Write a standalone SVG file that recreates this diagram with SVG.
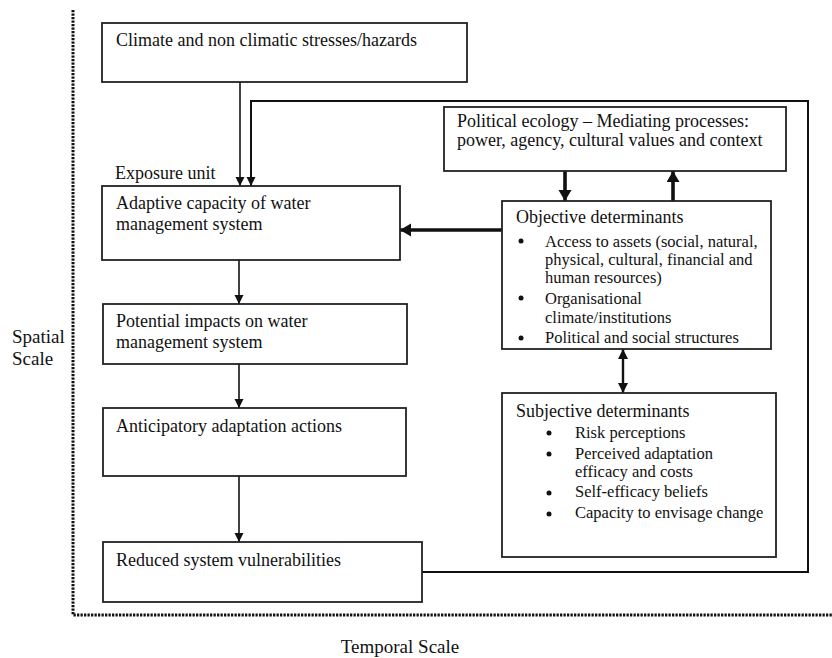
<svg xmlns="http://www.w3.org/2000/svg" width="832" height="658" viewBox="0 0 832 658">
<style>
text{font-family:"Liberation Serif","Times New Roman",serif;fill:#111}
.t{font-size:18px}
.b{font-size:16.5px}
.s{font-size:19px}
.box{fill:#fff;stroke:#222;stroke-width:1.8}
.thin{fill:none;stroke:#111;stroke-width:1.6}
.thick{fill:none;stroke:#111;stroke-width:3.6}
.mid{fill:none;stroke:#111;stroke-width:2.4}
.dot{fill:none;stroke:#111;stroke-width:3;stroke-dasharray:2.3 1.2}
.bul{fill:#111}
</style>
<defs>
<marker id="ah" markerUnits="userSpaceOnUse" markerWidth="10" markerHeight="10" refX="9" refY="4.5" orient="auto">
<path d="M0,0 L9,4.5 L0,9 z" fill="#111"/>
</marker>
<marker id="ahk" markerUnits="userSpaceOnUse" markerWidth="12" markerHeight="14" refX="11" refY="6.5" orient="auto">
<path d="M0,0 L11,6.5 L0,13 z" fill="#111"/>
</marker>
<marker id="ahm" markerUnits="userSpaceOnUse" markerWidth="11" markerHeight="11" refX="10" refY="5" orient="auto-start-reverse">
<path d="M0,0 L10,5 L0,10 z" fill="#111"/>
</marker>
</defs>

<g id="frame">
<path class="dot" d="M73,10 L73,615 L832,615"/>
<text class="s" x="12" y="343">Spatial</text>
<text class="s" x="12" y="365">Scale</text>
<text class="s" x="400" y="653" text-anchor="middle">Temporal Scale</text>
</g>

<g id="connectors">
<line class="thin" x1="240" y1="82" x2="240" y2="186" marker-end="url(#ah)"/>
<polyline class="mid" points="422,572 808,572 808,101 251,101 251,186" style="stroke-width:2" marker-end="url(#ah)"/>
<line class="thin" x1="239" y1="260" x2="239" y2="304" marker-end="url(#ah)"/>
<line class="thin" x1="239" y1="364" x2="239" y2="408" marker-end="url(#ah)"/>
<line class="thin" x1="239" y1="476" x2="239" y2="542" marker-end="url(#ah)"/>
<line class="thick" x1="502" y1="230" x2="400" y2="230" marker-end="url(#ahk)"/>
<line class="thick" x1="565" y1="171" x2="565" y2="201" marker-end="url(#ahk)"/>
<line class="thick" x1="673" y1="201" x2="673" y2="171" marker-end="url(#ahk)"/>
<line class="mid" x1="623" y1="349" x2="623" y2="393" marker-start="url(#ahm)" marker-end="url(#ahm)"/>
</g>

<g id="climate">
<rect class="box" x="102" y="23" width="365" height="59"/>
<text class="t" x="116" y="46">Climate and non climatic stresses/hazards</text>
</g>

<g id="exposure-label">
<text class="t" x="115" y="179">Exposure unit</text>
</g>

<g id="adaptive">
<rect class="box" x="102" y="186" width="298" height="74"/>
<text class="t" x="116" y="209">Adaptive capacity of water</text>
<text class="t" x="116" y="230">management system</text>
</g>

<g id="potential">
<rect class="box" x="103" y="304" width="304" height="60"/>
<text class="t" x="116" y="327">Potential impacts on water</text>
<text class="t" x="116" y="348">management system</text>
</g>

<g id="anticipatory">
<rect class="box" x="103" y="408" width="303" height="68"/>
<text class="t" x="116" y="432">Anticipatory adaptation actions</text>
</g>

<g id="reduced">
<rect class="box" x="103" y="542" width="319" height="60"/>
<text class="t" x="116" y="566">Reduced system vulnerabilities</text>
</g>

<g id="political">
<rect class="box" x="444" y="107" width="342" height="64"/>
<text class="t" x="457" y="127">Political ecology – Mediating processes:</text>
<text class="t" x="457" y="146">power, agency, cultural values and context</text>
</g>

<g id="objective">
<rect class="box" x="502" y="201" width="269" height="148"/>
<text class="t" x="516" y="223">Objective determinants</text>
<circle class="bul" cx="521" cy="241" r="2.5"/>
<circle class="bul" cx="521" cy="298" r="2.5"/>
<circle class="bul" cx="521" cy="338" r="2.5"/>
<text class="b" x="545" y="247">Access to assets (social, natural,</text>
<text class="b" x="545" y="265">physical, cultural, financial and</text>
<text class="b" x="545" y="283">human resources)</text>
<text class="b" x="545" y="304">Organisational</text>
<text class="b" x="545" y="323">climate/institutions</text>
<text class="b" x="545" y="343">Political and social structures</text>
</g>

<g id="subjective">
<rect class="box" x="502" y="393" width="274" height="164"/>
<text class="t" x="516" y="417">Subjective determinants</text>
<circle class="bul" cx="549" cy="433" r="2.5"/>
<circle class="bul" cx="549" cy="454" r="2.5"/>
<circle class="bul" cx="549" cy="493" r="2.5"/>
<circle class="bul" cx="549" cy="514" r="2.5"/>
<text class="b" x="575" y="438">Risk perceptions</text>
<text class="b" x="575" y="459">Perceived adaptation</text>
<text class="b" x="575" y="477">efficacy and costs</text>
<text class="b" x="575" y="497">Self-efficacy beliefs</text>
<text class="b" x="575" y="518">Capacity to envisage change</text>
</g>
</svg>
